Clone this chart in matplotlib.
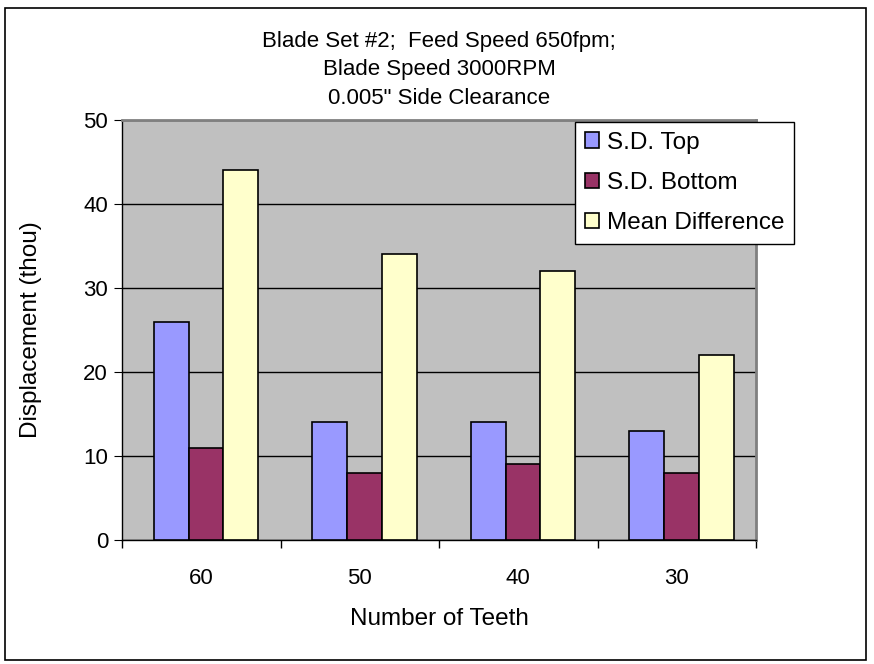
import matplotlib.pyplot as plt
import matplotlib.patches as mpatches
import numpy as np

plt.rcParams['font.family'] = ['Liberation Sans', 'DejaVu Sans']

teeth = ['60', '50', '40', '30']
sd_top = [26, 14, 14, 13]
sd_bottom = [11, 8, 9, 8]
mean_diff = [44, 34, 32, 22]

fig = plt.figure(figsize=(8.74, 6.64), dpi=100)
W, H = 874, 664
ax = fig.add_axes([122 / W, 1 - 540 / H, (756 - 122) / W, (540 - 120) / H])

# outer chart border
fig.patches.append(mpatches.Rectangle((5 / W, 4 / H), (866 - 5) / W, (656 - 4) / H,
                                      transform=fig.transFigure, fill=False,
                                      edgecolor='black', linewidth=1.2))

x = np.arange(len(teeth))
w = 0.22
off = 0.03
ax.set_facecolor('#C0C0C0')
ax.bar(x - w + off, sd_top, w, color='#9999FF', edgecolor='black', linewidth=1.2,
       label='S.D. Top', zorder=3)
ax.bar(x + off, sd_bottom, w, color='#993366', edgecolor='black', linewidth=1.2,
       label='S.D. Bottom', zorder=3)
ax.bar(x + w + off, mean_diff, w, color='#FFFFCC', edgecolor='black', linewidth=1.2,
       label='Mean Difference', zorder=3)

ax.set_xlim(-0.5, 3.5)
ax.set_ylim(0, 50)
ax.set_yticks(range(0, 51, 10))
ax.yaxis.grid(True, color='black', linewidth=1, zorder=1)
ax.set_axisbelow(True)

ax.set_xticks(np.arange(-0.5, 4, 1))
ax.set_xticklabels([])
ax.set_xticks(x, minor=True)
ax.set_xticklabels(teeth, minor=True)
ax.tick_params(axis='x', which='minor', length=0, labelsize=16, pad=20)
ax.tick_params(axis='x', which='major', length=6, direction='out', width=1)
ax.tick_params(axis='y', length=6, direction='out', labelsize=16, pad=4)

for s in ['top', 'right']:
    ax.spines[s].set_color('#808080')
    ax.spines[s].set_linewidth(2)
ax.spines['left'].set_linewidth(1)
ax.spines['bottom'].set_linewidth(1)

ax.set_ylabel('Displacement (thou)', fontsize=17.5, labelpad=30)
ax.set_xlabel('Number of Teeth', fontsize=17.5, labelpad=14)

fig.text(439 / W, 1 - 41 / H, 'Blade Set #2;  Feed Speed 650fpm;', ha='center', va='center', fontsize=16)
fig.text(439 / W, 1 - 70 / H, 'Blade Speed 3000RPM', ha='center', va='center', fontsize=16)
fig.text(439 / W, 1 - 99 / H, '0.005" Side Clearance', ha='center', va='center', fontsize=16)

leg = ax.legend(loc='upper left', bbox_to_anchor=((575 - 122) / (756 - 122), 1 - 2 / 420),
                fontsize=17.5, frameon=True, fancybox=False, edgecolor='black',
                framealpha=1, handlelength=0.6, handleheight=0.6, handletextpad=0.3,
                borderpad=0.4, labelspacing=0.75, borderaxespad=0)
leg.get_frame().set_linewidth(1)
leg.set_zorder(5)

fig.savefig('out.png', dpi=100)
